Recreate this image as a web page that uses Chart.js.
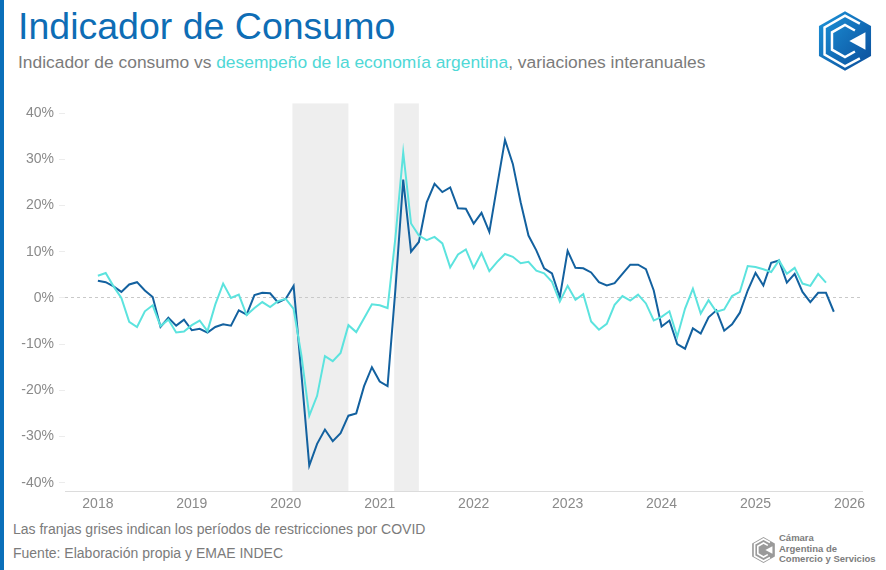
<!DOCTYPE html>
<html lang="es">
<head>
<meta charset="utf-8">
<title>Indicador de Consumo</title>
<script src="https://cdn.jsdelivr.net/npm/chart.js@4.4.1/dist/chart.umd.min.js"></script>
<style>
  html, body { margin: 0; padding: 0; background: #fff; }
  body { width: 886px; height: 570px; position: relative; overflow: hidden; font-family: "Liberation Sans", Arial, sans-serif; }
  .bar { position: absolute; left: 0; top: 0; width: 4px; height: 570px; background: #0a6fba; }
  .title { position: absolute; left: 18px; top: 8px; margin: 0; font-size: 37.5px; line-height: 1; font-weight: normal; color: #0e6db5; white-space: nowrap; }
  .subtitle { position: absolute; left: 18px; top: 53.5px; font-size: 17.4px; line-height: 1; color: #7b7b7b; white-space: nowrap; }
  .subtitle span { color: #4fd8d6; }
  .note { position: absolute; left: 13px; font-size: 14px; line-height: 1; color: #7b7b7b; white-space: nowrap; }
  #wrap { position: absolute; left: 0; top: 90px; width: 886px; height: 430px; }
  .logo { position: absolute; left: 814px; top: 10px; width: 62px; height: 62px; }
  .cac { position: absolute; left: 750px; top: 533px; width: 130px; height: 34px; }
  .cac svg { position: absolute; left: 0; top: 2px; width: 27px; height: 30px; }
  .cac div { position: absolute; left: 29px; top: 0; font-size: 9.5px; line-height: 10.5px; font-weight: bold; color: #7d7d7d; white-space: nowrap; }
</style>
</head>
<body>
<div class="bar"></div>
<h1 class="title">Indicador de Consumo</h1>
<div class="subtitle">Indicador de consumo vs <span>desempeño de la economía argentina</span>, variaciones interanuales</div>

<svg class="logo" viewBox="0 0 100 100">
  <defs>
    <linearGradient id="lg" x1="0" y1="0" x2="1" y2="1">
      <stop offset="0" stop-color="#1c94da"/>
      <stop offset="1" stop-color="#0b4c99"/>
    </linearGradient>
  </defs>
  <polygon points="50,2 92,26 92,74 50,98 8,74 8,26" fill="url(#lg)"/>
  <polyline points="74,22 50,9 17,28 17,72 50,91 74,78" fill="none" stroke="#fff" stroke-width="4"/>
  <polyline points="66,33 50,24 29,36 29,64 50,76 66,67" fill="none" stroke="#fff" stroke-width="4"/>
  <polygon points="83,36 83,64 57,50" fill="#fff"/>
</svg>

<div id="wrap"><canvas id="chart"></canvas></div>

<div class="note" style="top:522px">Las franjas grises indican los períodos de restricciones por COVID</div>
<div class="note" style="top:546px">Fuente: Elaboración propia y EMAE INDEC</div>

<div class="cac">
  <svg viewBox="0 0 100 100">
    <polygon points="50,2 92,26 92,74 50,98 8,74 8,26" fill="#9a9a9a"/>
    <polyline points="74,22 50,9 17,28 17,72 50,91 74,78" fill="none" stroke="#fff" stroke-width="6"/>
    <polyline points="66,33 50,24 29,36 29,64 50,76 66,67" fill="none" stroke="#fff" stroke-width="6"/>
    <polygon points="83,36 83,64 57,50" fill="#fff"/>
  </svg>
  <div>Cámara<br>Argentina de<br>Comercio y Servicios</div>
</div>

<script>
const startYear = 2018;
const yearLabels = ['2018', '2019', '2020', '2021', '2022', '2023', '2024', '2025', '2026'];
const yTicks = [-40, -30, -20, -10, 0, 10, 20, 30, 40];

// variación interanual mensual, desde ene-2018
const consumo = [
  3.7, 3.4, 2.5, 1.3, 2.9, 3.4, 1.6, 0.2, -6.3, -4.3, -6.0, -4.7,
  -7.0, -6.7, -7.5, -6.3, -5.7, -6.0, -2.7, -3.6, 0.6, 1.1, 1.0, -1.0,
  -0.2, 2.6, -16.5, -36.3, -31.6, -28.5, -31.0, -29.3, -25.5, -25.0, -19.1, -15.0,
  -18.1, -19.1, 1.8, 25.6, 10.0, 12.1, 20.7, 24.7, 22.9, 23.9, 19.4, 19.3,
  16.1, 18.4, 14.3, 24.3, 34.2, 29.0, 20.7, 13.5, 10.3, 6.4, 5.3, 0.1,
  10.2, 6.5, 6.4, 5.5, 3.4, 2.7, 3.2, 5.2, 7.2, 7.2, 6.2, 1.6,
  -6.2, -4.9, -10.0, -11.0, -6.6, -7.7, -4.2, -2.7, -7.1, -5.7, -3.2, 1.6,
  5.4, 2.7, 7.6, 8.1, 3.3, 5.2, 1.3, -0.9, 1.1, 1.1, -3.0
];
const emae = [
  4.8, 5.4, 2.5, 0.0, -5.2, -6.3, -2.9, -1.6, -6.1, -4.7, -7.5, -7.3,
  -5.9, -4.9, -7.2, -1.4, 3.1, 0.0, 0.7, -3.7, -2.2, -0.9, -2.0, -0.7,
  -0.2, -2.4, -12.5, -25.5, -21.2, -12.6, -13.7, -11.9, -5.9, -7.4, -4.4, -1.4,
  -1.6, -2.2, 13.0, 31.5, 16.1, 13.5, 12.5, 13.2, 11.8, 6.6, 9.4, 10.5,
  6.5, 9.7, 5.8, 7.8, 9.5, 8.9, 7.5, 7.8, 5.9, 5.3, 3.5, -0.8,
  2.6, -0.4, 0.8, -5.1, -6.9, -5.6, -1.5, 0.4, -0.6, 0.7, -1.2, -4.9,
  -4.1, -2.9, -8.4, -2.3, 2.0, -3.4, -0.5, -3.0, -2.5, 0.4, 1.3, 6.9,
  6.7, 6.2, 5.6, 8.1, 5.2, 6.5, 3.1, 2.6, 5.2, 3.3
];
// franjas de restricciones COVID (mes inicial, mes final)
const covidBands = [['2020-02', '2020-09'], ['2021-03', '2021-06']];

const monthIndex = s => (Number(s.slice(0, 4)) - startYear) * 12 + Number(s.slice(5, 7)) - 1;
const toPoints = arr => arr.map((v, i) => ({ x: i, y: v }));

const bandsPlugin = {
  id: 'covidBands',
  beforeDraw(chart) {
    const { ctx, chartArea, scales } = chart;
    ctx.save();
    ctx.fillStyle = '#eeeeee';
    covidBands.forEach(([a, b]) => {
      const x1 = scales.x.getPixelForValue(monthIndex(a) - 0.15);
      const x2 = scales.x.getPixelForValue(monthIndex(b));
      ctx.fillRect(x1, chartArea.top, x2 - x1, chartArea.bottom - chartArea.top);
    });
    ctx.restore();
  }
};

Chart.defaults.font.family = '"Liberation Sans", Arial, sans-serif';
Chart.defaults.color = '#8a8a8a';

new Chart(document.getElementById('chart').getContext('2d'), {
  type: 'line',
  data: {
    datasets: [
      {
        label: 'EMAE',
        data: toPoints(emae),
        borderColor: '#5ce3de',
        borderWidth: 2,
        pointRadius: 0,
        tension: 0,
      },
      {
        label: 'Indicador de consumo',
        data: toPoints(consumo),
        borderColor: '#13619f',
        borderWidth: 2,
        pointRadius: 0,
        tension: 0,
      },
    ],
  },
  options: {
    responsive: true,
    maintainAspectRatio: false,
    animation: false,
    layout: { padding: { top: 11, right: 24, left: 0, bottom: 0 } },
    plugins: {
      legend: { display: false },
      tooltip: { enabled: false },
    },
    scales: {
      x: {
        type: 'linear',
        min: -4.2,
        max: 97.6,
        afterBuildTicks: scale => { scale.ticks = yearLabels.map((y, k) => ({ value: k * 12 })); },
        afterFit: scale => { scale.height = 29; },
        ticks: {
          padding: 5,
          font: { size: 14 },
          color: '#8a8a8a',
          maxRotation: 0,
          autoSkip: false,
          callback: v => yearLabels[Math.round(v / 12)],
        },
        grid: { display: false, drawTicks: false },
        border: { display: true, color: '#dcdcdc', dash: [2, 2] },
      },
      y: {
        min: -41.8,
        max: 42.1,
        afterBuildTicks: scale => { scale.ticks = yTicks.map(v => ({ value: v })); },
        afterFit: scale => { scale.width = 65; },
        ticks: {
          padding: 5,
          font: { size: 14 },
          color: '#8a8a8a',
          callback: v => v + '%',
        },
        grid: {
          color: c => (c.tick && c.tick.value === 0 ? '#c9c9c9' : 'rgba(0,0,0,0)'),
          tickColor: '#ececec',
          tickLength: 6,
          lineWidth: 1,
        },
        border: { display: false, dash: [3, 3] },
      },
    },
  },
  plugins: [bandsPlugin],
});
</script>
</body>
</html>
